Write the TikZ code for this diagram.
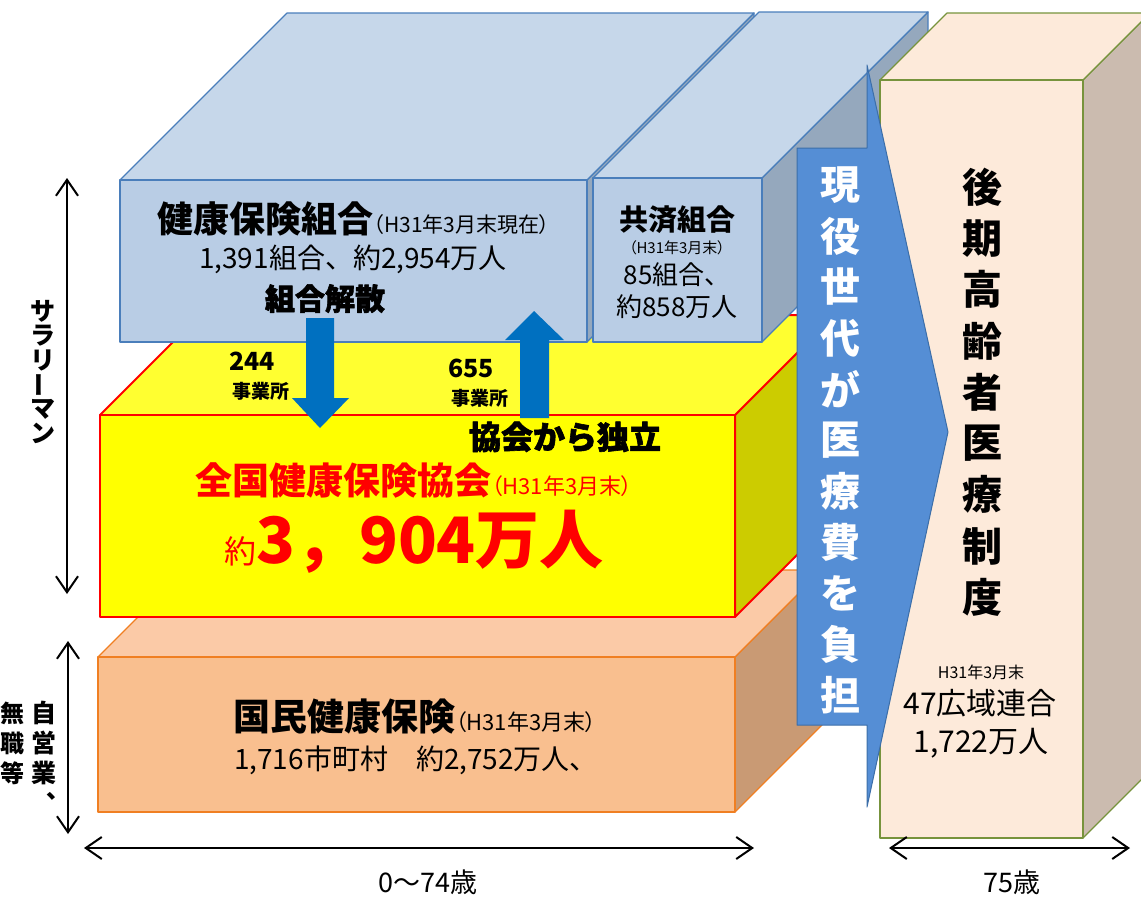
\documentclass[tikz,border=0pt]{standalone}
\usepackage{fontspec}
\setmainfont{Noto Sans CJK JP}
\newfontfamily\heavyfont{Noto Sans CJK JP}[BoldFeatures={FakeBold=2}]
\usepackage{tikz}
\usetikzlibrary{arrows.meta}

\definecolor{kenpoFront}{HTML}{B9CDE5}
\definecolor{kenpoTop}{HTML}{C6D7EA}
\definecolor{kenpoSide}{HTML}{95A8BD}
\definecolor{kenpoLine}{HTML}{4A7EBB}
\definecolor{kyokaiFront}{HTML}{FFFF00}
\definecolor{kyokaiTop}{HTML}{FFFF30}
\definecolor{kyokaiSide}{HTML}{CCCC00}
\definecolor{kyokaiLine}{HTML}{FF0000}
\definecolor{kokuhoFront}{HTML}{F9BF8F}
\definecolor{kokuhoTop}{HTML}{FBCAA7}
\definecolor{kokuhoSide}{HTML}{C99A74}
\definecolor{kokuhoLine}{HTML}{F07F22}
\definecolor{koukiFront}{HTML}{FDEADA}
\definecolor{koukiSide}{HTML}{CBBBAF}
\definecolor{koukiLine}{HTML}{77933C}
\definecolor{burden}{HTML}{558ED5}
\definecolor{burdenLine}{HTML}{3C6EA8}
\definecolor{move}{HTML}{0070C0}

\tikzstyle{agespan} = [line width=2pt, {Straight Barb[length=16pt,width=22pt]}-{Straight Barb[length=16pt,width=22pt]}]
\tikzstyle{txt} = [inner sep=0pt, anchor=base]
\tikzstyle{vchar} = [inner sep=0pt, font=\bfseries\fsz{40}]
\tikzstyle{sidechar} = [inner sep=0pt, font=\bfseries\fsz{25}]

\newcommand{\fsz}[1]{\fontsize{#1}{#1}\selectfont}
% tight parentheses for the date notes
\newcommand{\lp}{{\addfontfeature{RawFeature=+palt}（}}
\newcommand{\rp}{{\addfontfeature{RawFeature=+palt}）}}
% cuboid: left, top, right, bottom, depth, front, top, side, line
\newcommand{\cuboid}[9]{%
  \filldraw[fill=#8, draw=#9] (#3,#2) -- (#3+#5,#2-#5) -- (#3+#5,#4-#5) -- (#3,#4) -- cycle;
  \filldraw[fill=#7, draw=#9] (#1,#2) -- (#1+#5,#2-#5) -- (#3+#5,#2-#5) -- (#3,#2) -- cycle;
  \filldraw[fill=#6, draw=#9] (#1,#2) rectangle (#3,#4);
}

\begin{document}
\begin{tikzpicture}[x=1pt, y=-1pt, line join=round, line width=1.2pt]
  \useasboundingbox (0,0) rectangle (1141,897);
  \clip (0,0) rectangle (1141,897);

  % Boxes, back to front
  \cuboid{98}{657}{735}{812}{87}{kokuhoFront}{kokuhoTop}{kokuhoSide}{kokuhoLine}
  \begin{scope}[line width=2pt]
    \cuboid{100}{415}{735}{617}{100}{kyokaiFront}{kyokaiTop}{kyokaiSide}{kyokaiLine}
  \end{scope}
  \cuboid{120}{180}{587}{342}{167}{kenpoFront}{kenpoTop}{kenpoSide}{kenpoLine}
  \cuboid{593}{178}{762}{342}{166}{kenpoFront}{kenpoTop}{kenpoSide}{kenpoLine}
  \cuboid{880}{80}{1083}{838}{67}{koukiFront}{koukiFront}{koukiSide}{koukiLine}

  % Burden arrow
  \filldraw[fill=burden, draw=burdenLine, line width=1pt] (797,148) -- (867,148) -- (867,65)
    -- (948,432) -- (867,807) -- (867,725) -- (797,725) -- cycle;

  % Moves between kenpo and kyokai
  \fill[move] (306,318) -- (334,318) -- (334,398) -- (349,398) -- (320,428) -- (292,398) -- (306,398) -- cycle;
  \fill[move] (520,418) -- (549,418) -- (549,340) -- (564,340) -- (534,311) -- (505,340) -- (520,340) -- cycle;

  % Kenpo
  \node[txt, anchor=base west] (kenpo) at (157,232) {{\bfseries\fsz{36}健康保険組合}{\fsz{21}\lp H31年3月末現在\rp}};
  \node[txt] (kenpoNum) at (353,268) {\fsz{28}1,391組合、約2,954万人};
  \node[txt] (dissolve) at (325,310) {\heavyfont\bfseries\fsz{30}組合解散};
  \node[txt] (downNum) at (252,370) {\bfseries\fsz{25}244};
  \node[txt] (downUnit) at (261,398) {\bfseries\fsz{19}事業所};
  \node[txt] (upNum) at (471,377) {\bfseries\fsz{25}655};
  \node[txt] (upUnit) at (480,405) {\bfseries\fsz{19}事業所};
  \node[txt] (leave) at (565,449) {\heavyfont\bfseries\fsz{32}協会から独立};

  % Kyosai
  \node[txt] (kyosai) at (677,230) {\bfseries\fsz{29}共済組合};
  \node[txt] (kyosaiDate) at (677,253) {\fsz{15}\lp H31年3月末\rp};
  \node[txt] (kyosaiNum) at (677,284) {\fsz{26}85組合、};
  \node[txt] (kyosaiPpl) at (677,316) {\fsz{26}約858万人};

  % Kyokai
  \node[txt, anchor=base west, text=red] (kyokai) at (195,494) {{\bfseries\fsz{37}全国健康保険協会}{\fsz{22}\lp H31年3月末\rp}};
  \node[txt, text=red] (kyokaiPpl) at (414,563) {{\fsz{32}約}{\bfseries\fsz{64}3，904万人}};

  % Kokuho
  \node[txt, anchor=base west] (kokuho) at (233,730) {{\bfseries\fsz{37}国民健康保険}{\fsz{22}\lp H31年3月末\rp}};
  \node[txt] (kokuhoNum) at (416,769) {\fsz{28}1,716市町村　約2,752万人、};

  % Kouki
  \foreach \c [count=\i from 0] in {後,期,高,齢,者,医,療,制,度}
    \node[vchar] (kouki-\i) at (982,187+51.3*\i) {\c};
  \node[txt] (koukiDate) at (981,678) {\fsz{16}H31年3月末};
  \node[txt] (koukiNum) at (980,714) {\fsz{30}47広域連合};
  \node[txt] (koukiPpl) at (981,752) {\fsz{30}1,722万人};

  % Burden text
  \foreach \c [count=\i from 0] in {現,役,世,代,が,医,療,費,を,負,担}
    \node[vchar, text=white] (burden-\i) at (840,185+51*\i) {\c};

  % Age spans
  \coordinate (salTop) at (67,178);
  \coordinate (salBot) at (67,594);
  \draw[agespan] (salTop) -- (salBot);
  \foreach \c [count=\i from 0] in {サ,ラ,リ,{\rotatebox{90}{ー}},マ,ン}
    \node[sidechar] (sal-\i) at (43,311+24.5*\i) {\c};

  \coordinate (selfTop) at (68,641);
  \coordinate (selfBot) at (68,834);
  \draw[agespan] (selfTop) -- (selfBot);
  \foreach \c [count=\i from 0] in {自,営,業,︑}
    \node[sidechar] (self-\i) at (44,713+30*\i) {\c};
  \foreach \c [count=\i from 0] in {無,職,等}
    \node[sidechar, font=\bfseries\fsz{24}] (none-\i) at (12.5,713+30*\i) {\c};

  \coordinate (ageL) at (84,848);
  \coordinate (ageR) at (754,848);
  \draw[agespan] (ageL) -- (ageR);
  \node[txt] (ageYoung) at (428,892) {\fsz{27}0～74歳};

  \coordinate (oldL) at (889,848);
  \coordinate (oldR) at (1130,848);
  \draw[agespan] (oldL) -- (oldR);
  \node[txt] (ageOld) at (1012,892) {\fsz{27}75歳};
\end{tikzpicture}
\end{document}
